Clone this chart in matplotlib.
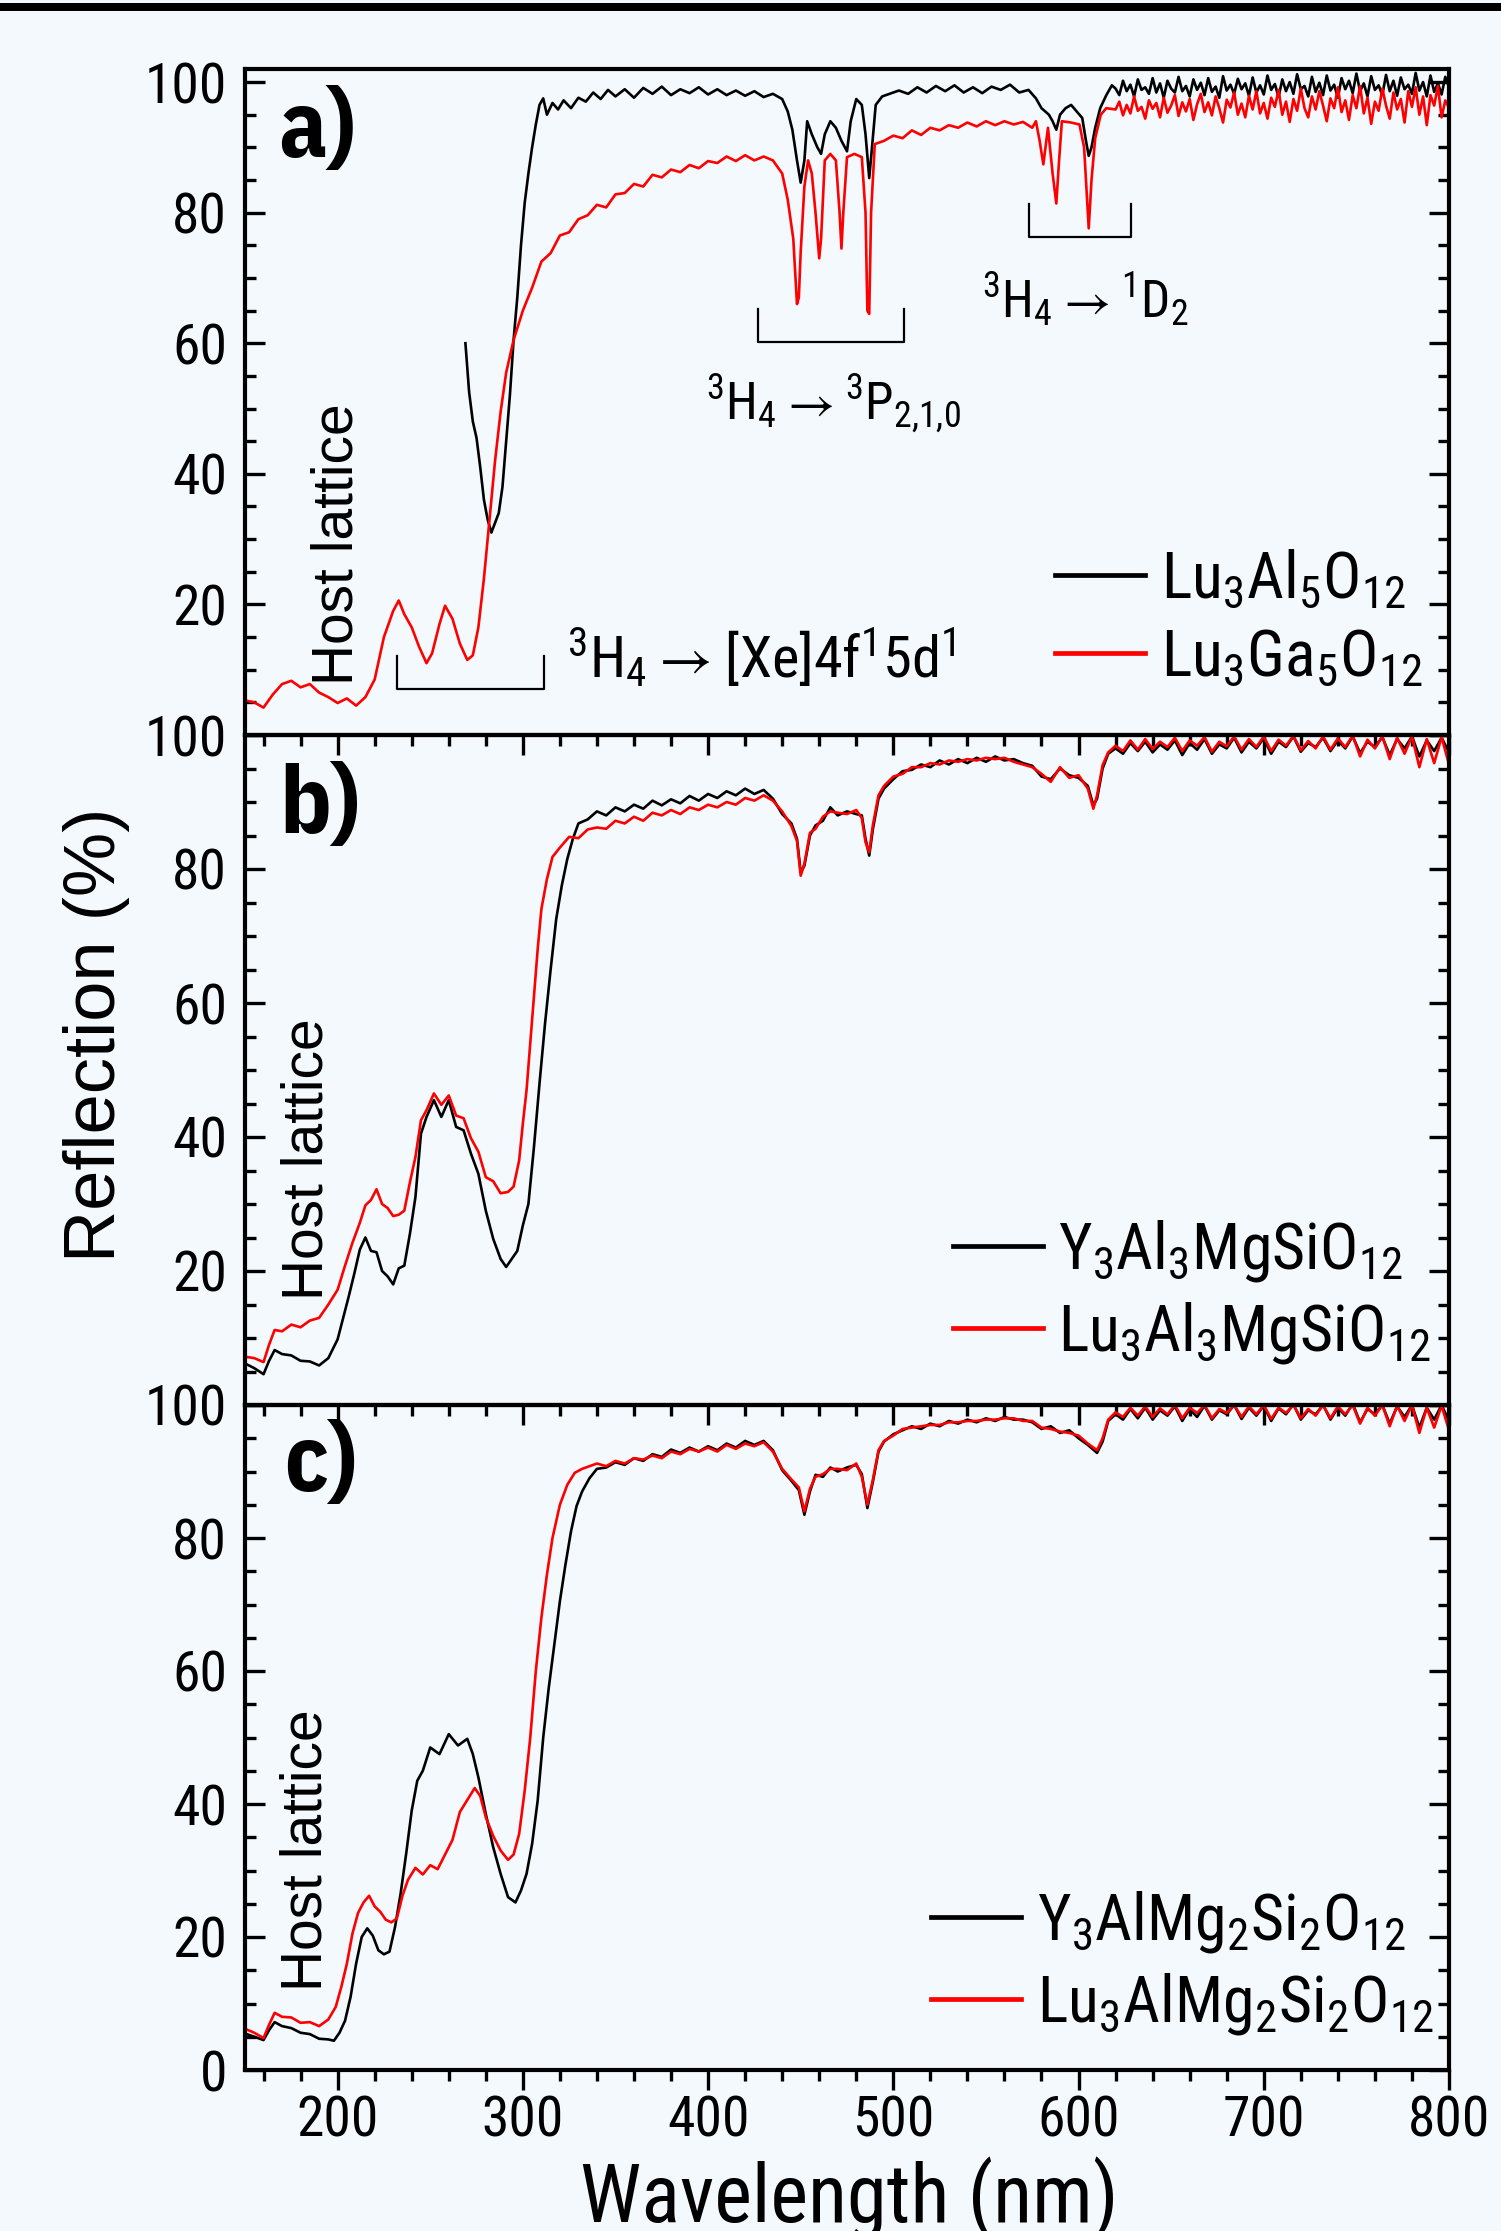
import matplotlib
matplotlib.use("Agg")
import matplotlib.pyplot as plt
from matplotlib import font_manager
from matplotlib.patches import Rectangle
from matplotlib.ticker import MultipleLocator

# ---------------------------------------------------------------------------
# data (wavelength in nm, reflection in %)
# ---------------------------------------------------------------------------

TAIL_WL_FINE = list(range(620, 801, 2))
TAIL_WL = list(range(620, 801, 4))

# panel a) Lu3Al5O12 (black)
WL_A_K = [269, 271, 273, 275, 277, 279, 281, 283, 285, 287, 289, 291, 293, 295,
          297, 299, 301, 303, 305, 307, 309, 311, 313, 316, 319, 322, 326, 330,
          334, 338, 342, 346, 350, 355, 360, 365, 370, 375, 380, 385, 390, 395,
          400, 405, 410, 415, 420, 425, 430, 435, 440, 443, 445.5, 448, 450, 452,
          453.5, 456, 459, 461, 463, 466, 469, 472, 475, 477, 480, 483, 485, 487,
          488.5, 490.5, 494, 498, 503, 508, 513, 518, 523, 528, 533, 538, 543,
          548, 553, 558, 563, 568, 573, 577, 580, 584, 586, 588, 590, 593, 596,
          599, 602, 604, 605.5, 607, 609, 611.7, 615, 618] + TAIL_WL_FINE
R_A_K = [60.0, 52.5, 48.0, 45.5, 41.0, 36.0, 33.0, 31.0, 32.5, 34.0, 38.0, 45.0,
         52.0, 60.5, 67.0, 75.0, 81.5, 86.0, 90.0, 93.5, 96.5, 97.5, 95.0, 96.8,
         95.8, 97.2, 96.0, 97.6, 97.0, 98.4, 97.4, 98.8, 97.8, 98.9, 97.6, 99.1,
         98.2, 99.3, 98.0, 98.9, 98.3, 99.2, 98.1, 98.9, 98.0, 98.7, 97.9, 98.6,
         97.7, 98.2, 97.4, 95.5, 92.7, 88.0, 84.6, 88.0, 94.0, 92.0, 90.0, 89.0,
         92.0, 94.0, 93.0, 91.0, 89.4, 94.0, 97.4, 96.5, 92.0, 85.3, 90.0, 96.5,
         97.8, 98.2, 98.7, 98.2, 99.2, 98.4, 99.4, 98.6, 99.5, 98.4, 99.2, 98.3,
         99.3, 98.8, 99.6, 98.4, 98.8, 97.5, 96.0, 95.0, 94.0, 92.7, 95.0, 96.0,
         96.5, 95.5, 94.5, 91.0, 88.7, 90.0, 93.0, 96.0, 98.0, 99.5,
         99.0, 98.0, 100.2, 98.6, 99.6, 97.8, 100.4, 98.8, 99.2, 98.2,
         100.6, 98.4, 99.8, 97.6, 100.2, 99.0, 98.4, 100.8, 98.6, 99.4,
         97.8, 100.4, 98.8, 99.9, 98.0, 100.6, 98.5, 99.3, 97.6, 100.9,
         98.7, 99.6, 98.2, 100.5, 98.9, 99.8, 97.9, 100.7, 98.4, 99.5,
         98.1, 101.0, 98.8, 99.7, 97.7, 100.4, 98.6, 100.0, 98.2, 101.2,
         98.9, 99.4, 97.8, 100.8, 98.5, 99.9, 98.0, 101.0, 98.7, 99.6,
         97.6, 100.6, 98.9, 100.2, 98.3, 101.3, 98.6, 99.8, 97.8, 100.9,
         98.8, 99.5, 98.0, 101.1, 98.6, 100.2, 97.9, 100.7, 98.9, 99.6,
         98.2, 101.4, 98.7, 100.0, 97.8, 101.0, 98.5, 99.8, 98.1, 100.8,
         99.2]

# panel a) Lu3Ga5O12 (red)
WL_A_R = [150, 155, 160, 165, 170, 175, 180, 185, 190, 195, 200, 205, 210, 215,
          220, 225, 230, 233, 236, 240, 244, 248, 251, 255, 258, 262, 266, 270,
          273, 276, 279, 282, 285, 288, 291, 295, 300, 305, 310, 315, 320, 325,
          330, 335, 340, 345, 350, 355, 360, 365, 370, 375, 380, 385, 390, 395,
          400, 405, 410, 415, 420, 425, 430, 435, 440, 443, 446, 448, 449, 450,
          452, 454, 456, 458, 460, 461, 463, 466, 469, 471, 472, 473, 475, 479,
          483, 485, 486, 487, 488, 490, 495, 500, 505, 510, 515, 520, 525, 530,
          535, 540, 545, 550, 555, 560, 565, 570, 575, 577, 579, 581, 583.5, 586,
          588, 589.5, 591, 596, 600.5, 603, 605.5, 607, 609, 612, 615] + TAIL_WL_FINE
R_A_R = [5.3, 5.0, 4.2, 6.2, 7.8, 8.3, 7.3, 7.8, 6.5, 5.8, 4.9, 5.6, 4.5, 5.8,
         8.5, 15.0, 19.0, 20.6, 18.5, 16.5, 13.5, 11.0, 12.5, 17.0, 19.8, 17.8,
         14.0, 11.5, 12.2, 16.5, 24.0, 33.0, 42.0, 49.5, 55.5, 60.5, 65.0, 68.5,
         72.5, 73.8, 76.5, 77.0, 79.0, 79.6, 81.2, 80.8, 82.8, 83.0, 84.4, 84.0,
         85.8, 85.4, 86.6, 86.2, 87.3, 86.8, 87.9, 87.6, 88.6, 87.9, 88.8, 88.0,
         88.6, 88.0, 86.0, 82.0, 76.0, 66.0, 67.0, 74.0, 84.0, 88.0, 86.0, 80.0,
         73.0, 76.0, 88.0, 89.0, 88.0, 80.0, 74.5, 80.0, 88.5, 89.0, 88.5, 80.0,
         65.0, 64.5, 80.0, 90.5, 91.0, 91.8, 91.4, 92.6, 91.9, 93.0, 92.6, 93.4,
         93.0, 93.8, 93.2, 94.0, 93.4, 94.0, 93.5, 93.9, 93.0, 94.0, 91.0, 87.4,
         93.0, 86.0, 81.4, 88.0, 94.0, 93.8, 93.5, 90.0, 77.6, 85.0, 91.4, 95.0,
         96.0,
         95.8, 97.0, 94.9, 96.5, 95.2, 97.8, 95.6, 96.2, 94.4, 97.2,
         95.9, 96.8, 94.6, 97.6, 95.3, 96.4, 98.0, 94.8, 96.9, 95.5,
         97.4, 94.2, 96.6, 98.2, 95.4, 96.9, 94.9, 97.8, 96.0, 93.8,
         97.3, 96.1, 98.4, 95.0, 96.7, 94.6, 97.9, 95.8, 98.6, 95.2,
         96.8, 94.4, 97.6, 96.2, 98.8, 95.0, 97.0, 93.9, 97.4, 95.6,
         99.0, 96.0, 94.6, 97.8, 95.8, 98.6, 96.4, 94.0, 97.5, 96.0,
         99.2, 95.4, 97.2, 94.2, 98.0, 96.0, 99.4, 95.2, 97.6, 93.6,
         97.0, 95.6, 99.0, 96.4, 94.4, 98.4, 95.8, 97.4, 93.8, 98.6,
         96.2, 99.2, 95.0, 97.8, 93.4, 98.0, 96.4, 99.4, 94.6, 97.2,
         96.0]

# panel b) Y3Al3MgSiO12 (black)
WL_B_K = [150, 155, 160, 163, 166, 170, 175, 180, 185, 190, 195, 200, 203, 206,
          209, 212, 215, 218, 221, 224, 227, 230, 233, 236, 239, 242, 245, 248,
          252, 256, 260, 264, 268, 272, 276, 280, 284, 288, 291, 294, 297, 300,
          303, 306, 309, 312, 315, 318, 321, 324, 327, 330, 335, 340, 345, 350,
          355, 360, 365, 370, 375, 380, 385, 390, 395, 400, 405, 410, 415, 420,
          425, 430, 435, 440, 445, 448, 450, 452, 455, 458, 462, 466, 470, 475,
          480, 483, 485, 487, 489, 492, 495, 500, 505, 510, 515, 520, 525, 530,
          535, 540, 545, 550, 555, 560, 565, 570, 575, 580, 585, 590, 595, 600,
          605, 608, 610, 613, 616] + TAIL_WL
R_B_K = [6.2, 5.5, 4.6, 6.6, 8.2, 7.6, 7.4, 6.6, 6.5, 5.9, 7.0, 9.8, 13.0, 16.2,
         19.6, 23.2, 25.0, 23.0, 22.8, 20.0, 19.2, 18.0, 20.4, 20.8, 25.5, 31.0,
         40.5, 43.0, 45.5, 43.0, 45.5, 41.5, 41.0, 37.5, 34.5, 29.0, 24.8, 21.8,
         20.6, 21.8, 23.0, 26.8, 30.0, 38.5, 48.0, 57.0, 65.0, 72.5, 77.5, 81.5,
         84.5, 86.8, 87.4, 88.6, 88.0, 89.2, 88.6, 89.6, 89.0, 90.2, 89.5, 90.4,
         89.8, 90.9, 90.2, 91.2, 90.6, 91.6, 91.0, 92.0, 91.2, 91.8, 90.5, 88.2,
         86.8, 84.5, 79.5, 80.5, 85.0, 86.5, 87.2, 89.2, 88.0, 88.6, 88.2, 88.0,
         84.5, 82.0, 86.0, 90.5, 92.0, 93.4, 94.6, 94.8, 95.6, 95.2, 96.2, 95.6,
         96.4, 95.8, 96.6, 96.0, 96.8, 96.2, 96.4, 95.8, 95.4, 93.8, 93.4, 95.0,
         94.0, 93.6, 92.4, 89.5, 90.5, 95.0, 97.2,
         98.0, 97.2, 98.8, 97.6, 99.0, 97.4, 98.6, 97.8, 99.2, 97.0, 98.8, 97.8,
         99.4, 97.2, 98.6, 98.0, 99.6, 97.4, 99.0, 98.0, 99.5, 97.2, 99.0, 98.2,
         99.8, 97.5, 98.8, 98.2, 99.6, 97.6, 99.2, 98.0, 99.8, 97.3, 99.0, 98.2,
         99.7, 97.0, 99.4, 98.0, 99.8, 96.8, 99.2, 97.6, 99.6, 97.4]

# panel b) Lu3Al3MgSiO12 (red)
WL_B_R = [150, 155, 160, 163, 166, 170, 175, 180, 185, 190, 195, 200, 204, 208,
          212, 215, 218, 221, 224, 227, 230, 233, 236, 239, 242, 245, 248, 252,
          256, 260, 264, 268, 272, 276, 280, 284, 288, 292, 295, 298, 300, 302,
          304, 306, 308, 310, 313, 316, 320, 325, 330, 335, 340, 345, 350, 355,
          360, 365, 370, 375, 380, 385, 390, 395, 400, 405, 410, 415, 420, 425,
          430, 435, 440, 445, 448, 450, 452, 455, 458, 462, 466, 470, 475, 480,
          483, 485, 487, 489, 492, 495, 500, 505, 510, 515, 520, 525, 530, 535,
          540, 545, 550, 555, 560, 565, 570, 575, 580, 585, 590, 595, 600, 605,
          608, 610, 613, 616] + TAIL_WL
R_B_R = [7.2, 7.0, 6.4, 9.0, 11.2, 11.0, 12.0, 11.6, 12.6, 13.0, 15.0, 17.2,
         20.8, 24.2, 27.2, 29.8, 30.6, 32.2, 30.0, 29.4, 28.2, 28.4, 29.0, 33.2,
         37.0, 42.5, 44.0, 46.5, 44.8, 46.2, 43.2, 42.8, 39.8, 37.8, 34.0, 33.4,
         31.6, 31.8, 32.6, 36.5, 42.0, 47.0, 54.0, 61.0, 68.0, 74.0, 78.5, 81.8,
         83.2, 84.8, 84.6, 85.9, 86.2, 86.0, 87.2, 86.8, 87.8, 87.2, 88.4, 88.0,
         88.8, 88.2, 89.2, 88.8, 89.6, 89.2, 90.0, 89.6, 90.6, 90.2, 91.0, 90.2,
         88.6, 86.4, 84.2, 79.0, 80.8, 85.4, 86.0, 87.8, 88.6, 88.4, 88.2, 88.8,
         87.6, 84.0, 82.5, 86.6, 91.0, 92.4, 93.8, 94.2, 95.2, 95.2, 95.8, 95.6,
         96.2, 96.0, 96.4, 96.2, 96.6, 96.4, 96.6, 96.0, 95.6, 95.2, 94.2, 93.0,
         95.2, 93.6, 94.0, 92.0, 89.0, 91.0, 95.5, 97.4,
         98.4, 97.6, 99.2, 97.8, 99.4, 97.9, 99.0, 98.2, 99.6, 97.6, 99.2, 98.4,
         99.7, 97.5, 99.0, 98.3, 99.8, 97.8, 99.4, 98.2, 99.8, 97.6, 99.3, 98.4,
         99.9, 97.7, 99.1, 98.0, 99.8, 97.8, 99.5, 98.2, 99.9, 96.8, 99.3, 98.0,
         99.8, 96.4, 99.6, 97.2, 99.8, 95.2, 99.4, 95.8, 99.7, 95.6]

# panel c) Y3AlMg2Si2O12 (black)
WL_C_K = [150, 155, 160, 163, 166, 170, 175, 180, 185, 190, 195, 198, 201, 204,
          207, 210, 213, 216, 219, 222, 225, 228, 231, 234, 237, 240, 243, 246,
          250, 255, 260, 265, 270, 273, 276, 280, 284, 288, 292, 296, 299, 302,
          305, 308, 311, 314, 317, 320, 323, 326, 329, 332, 336, 340, 345, 350,
          355, 360, 365, 370, 375, 380, 385, 390, 395, 400, 405, 410, 415, 420,
          425, 430, 435, 440, 445, 449, 452, 455, 458, 462, 466, 470, 475, 480,
          483, 486, 489, 492, 495, 500, 505, 510, 515, 520, 525, 530, 535, 540,
          545, 550, 555, 560, 565, 570, 575, 580, 585, 590, 595, 600, 605, 610,
          613, 616] + TAIL_WL
R_C_K = [5.5, 5.0, 4.5, 6.0, 7.2, 6.6, 6.3, 5.6, 5.4, 4.7, 4.6, 4.4, 5.6, 7.4,
         11.0, 16.0, 20.0, 21.3, 20.2, 18.0, 17.4, 17.8, 21.5, 26.5, 32.5, 39.0,
         43.5, 45.0, 48.5, 47.5, 50.5, 48.8, 49.8, 47.5, 44.0, 38.5, 33.5, 29.5,
         26.0, 25.2, 27.0, 29.5, 34.0, 40.5, 50.0, 57.5, 64.0, 70.5, 76.0, 81.0,
         84.8, 87.0, 89.0, 90.4, 90.6, 91.4, 91.0, 92.0, 91.6, 92.6, 92.2, 93.3,
         92.8, 93.6, 93.0, 93.8, 93.2, 94.2, 93.6, 94.6, 94.0, 94.6, 93.2, 90.2,
         88.6, 87.2, 83.5, 87.0, 89.5, 89.2, 90.6, 90.0, 90.6, 91.0, 89.6, 84.5,
         88.5, 93.0, 94.5, 95.6, 96.2, 96.8, 96.4, 97.2, 96.8, 97.6, 97.2, 97.8,
         97.4, 98.0, 97.6, 98.2, 97.8, 97.8, 97.4, 96.4, 96.8, 95.8, 96.2, 95.0,
         94.0, 92.8, 94.5, 97.6,
         98.6, 97.8, 99.4, 98.0, 99.6, 97.8, 99.2, 98.4, 99.8, 97.6, 99.4, 98.2,
         99.9, 97.8, 99.2, 98.6, 100.0, 97.9, 99.6, 98.4, 99.9, 97.6, 99.5, 98.6,
         100.1, 97.8, 99.2, 98.6, 100.0, 97.8, 99.6, 98.4, 100.2, 97.4, 99.4,
         98.6, 100.0, 97.2, 99.8, 98.2, 100.0, 96.6, 99.6, 97.8, 100.0, 97.6]

# panel c) Lu3AlMg2Si2O12 (red)
WL_C_R = [150, 155, 160, 163, 166, 170, 175, 180, 185, 190, 195, 199, 202, 205,
          208, 211, 214, 217, 220, 223, 226, 229, 232, 235, 238, 242, 246, 250,
          254, 258, 262, 266, 270, 274, 277, 280, 284, 288, 292, 295, 298, 301,
          304, 307, 310, 313, 316, 320, 324, 328, 332, 336, 340, 345, 350, 355,
          360, 365, 370, 375, 380, 385, 390, 395, 400, 405, 410, 415, 420, 425,
          430, 435, 440, 445, 449, 452, 455, 458, 462, 466, 470, 475, 480, 483,
          486, 489, 492, 495, 500, 505, 510, 515, 520, 525, 530, 535, 540, 545,
          550, 555, 560, 565, 570, 575, 580, 585, 590, 595, 600, 605, 610, 613,
          616] + TAIL_WL
R_C_R = [6.2, 5.6, 4.8, 6.8, 8.6, 8.0, 7.9, 7.1, 7.2, 6.6, 7.6, 9.5, 12.5, 16.0,
         20.5, 23.6, 25.2, 26.2, 24.6, 23.8, 22.6, 22.2, 22.8, 26.2, 28.6, 30.4,
         29.4, 30.8, 30.2, 32.4, 34.6, 38.8, 40.6, 42.4, 41.2, 38.0, 35.2, 33.0,
         31.6, 32.4, 35.5, 42.0, 50.0, 60.0, 68.0, 74.5, 80.0, 85.0, 88.0, 89.8,
         90.4, 90.8, 91.2, 90.8, 91.6, 91.2, 92.0, 91.8, 92.4, 92.0, 93.0, 92.6,
         93.4, 93.0, 93.6, 93.0, 94.0, 93.4, 94.2, 93.8, 94.4, 93.0, 90.4, 88.8,
         87.6, 84.0, 87.4, 89.2, 89.6, 90.4, 90.4, 90.2, 91.2, 89.2, 85.0, 88.8,
         93.2, 94.6, 95.4, 96.4, 96.6, 96.8, 97.0, 97.0, 97.4, 97.4, 97.6, 97.6,
         97.8, 97.8, 98.0, 98.0, 97.6, 97.6, 96.6, 96.4, 96.0, 95.8, 95.4, 94.2,
         93.2, 95.0, 97.8,
         98.9, 98.2, 99.6, 98.4, 99.8, 98.2, 99.5, 98.6, 100.0, 98.0, 99.6, 98.8,
         100.0, 98.0, 99.4, 98.8, 100.0, 98.2, 99.8, 98.6, 100.0, 97.9, 99.6,
         98.8, 100.0, 98.0, 99.4, 98.4, 100.0, 98.0, 99.8, 98.6, 100.0, 97.2,
         99.6, 98.4, 100.0, 96.8, 99.9, 97.6, 100.0, 95.8, 99.6, 96.6, 99.9, 96.2]

LABELS_A = [r"Lu$_3$Al$_5$O$_{12}$", r"Lu$_3$Ga$_5$O$_{12}$"]
LABELS_B = [r"Y$_3$Al$_3$MgSiO$_{12}$", r"Lu$_3$Al$_3$MgSiO$_{12}$"]
LABELS_C = [r"Y$_3$AlMg$_2$Si$_2$O$_{12}$", r"Lu$_3$AlMg$_2$Si$_2$O$_{12}$"]

# brackets in panel a: (left nm, right nm, bottom %, top %)
BRACKET_XE = (232, 311.5, 7.1, 12.1)
BRACKET_3P = (427, 506, 60.2, 65.2)
BRACKET_1D = (573.5, 628.4, 76.3, 81.3)

BG = "#f3f9fd"
BLACK = "#000000"
RED = "#ff0000"

names = {f.name for f in font_manager.fontManager.ttflist}
NARROW = next((n for n in ["Liberation Sans Narrow", "Arial Narrow", "Roboto Condensed",
                           "Archivo Narrow", "IBM Plex Sans Condensed"] if n in names),
              "Liberation Sans")
BOLDNARROW = next((n for n in ["Liberation Sans Narrow", "Arial Narrow",
                               "IBM Plex Sans Condensed", "Barlow Condensed"] if n in names),
                  "Liberation Sans")
WIDE = "Liberation Sans"
plt.rcParams["font.family"] = [NARROW, "DejaVu Sans"]
plt.rcParams["mathtext.default"] = "regular"

TICK_FS = 40
LEG_FS = 46
LINE_W = 1.9

W, H = 1501, 2231
LEFT, RIGHT = 245, 1449
# (top px, bottom px) of the three stacked panels
PANEL_PX = [(69, 735), (735, 1405), (1405, 2070)]
YLIMS = [(2, 102), (0, 100), (0, 100)]


def make_axes(fig, top, bottom):
    ax = fig.add_axes([LEFT / W, 1 - bottom / H, (RIGHT - LEFT) / W, (bottom - top) / H])
    ax.set_facecolor("none")
    for sp in ax.spines.values():
        sp.set_linewidth(3.0)
    return ax


def style_axes(ax, ylim, show_x, ylabels):
    ax.set_xlim(150, 800)
    ax.set_ylim(*ylim)
    ax.xaxis.set_major_locator(MultipleLocator(100))
    ax.xaxis.set_minor_locator(MultipleLocator(20))
    ax.set_yticks([0, 20, 40, 60, 80, 100])
    ax.set_yticklabels(ylabels)
    ax.yaxis.set_minor_locator(MultipleLocator(5))
    ax.tick_params(axis="x", which="both", direction="out", bottom=True, top=False,
                   width=2.4, labelbottom=show_x, labelsize=TICK_FS, pad=3)
    ax.tick_params(axis="x", which="major", length=14.5)
    ax.tick_params(axis="x", which="minor", length=8)
    ax.tick_params(axis="y", which="both", direction="in", left=True, right=True,
                   width=2.4, labelsize=TICK_FS, pad=13)
    ax.tick_params(axis="y", which="major", length=14.5)
    ax.tick_params(axis="y", which="minor", length=8)


def plot_panel(ax, wl_k, r_k, wl_r, r_r, labels, anchor):
    ax.plot(wl_k, r_k, color=BLACK, lw=LINE_W, label=labels[0])
    ax.plot(wl_r, r_r, color=RED, lw=LINE_W, label=labels[1])
    leg = ax.legend(loc="lower right", bbox_to_anchor=anchor, frameon=False,
                    fontsize=LEG_FS, handlelength=1.4, handletextpad=0.25,
                    labelspacing=0.25, borderpad=0, borderaxespad=0)
    for line in leg.get_lines():
        line.set_linewidth(3.4)


def bracket(ax, spec):
    x0, x1, y0, y1 = spec
    ax.plot([x0, x0, x1, x1], [y1, y0, y0, y1], color=BLACK, lw=1.6)


fig = plt.figure(figsize=(W / 100, H / 100), dpi=100, facecolor=BG)

ax_a = make_axes(fig, *PANEL_PX[0])
ax_b = make_axes(fig, *PANEL_PX[1])
ax_c = make_axes(fig, *PANEL_PX[2])

plot_panel(ax_a, WL_A_K, R_A_K, WL_A_R, R_A_R, LABELS_A, (0.978, 0.07))
plot_panel(ax_b, WL_B_K, R_B_K, WL_B_R, R_B_R, LABELS_B, (0.985, 0.058))
plot_panel(ax_c, WL_C_K, R_C_K, WL_C_R, R_C_R, LABELS_C, (0.987, 0.05))

# the 0 of panels a) and b) sits under the 100 of the panel below
style_axes(ax_a, YLIMS[0], False, ["", "20", "40", "60", "80", "100"])
style_axes(ax_b, YLIMS[1], False, ["", "20", "40", "60", "80", "100"])
style_axes(ax_c, YLIMS[2], True, ["0", "20", "40", "60", "80", "100"])

# panel letters
for ax, xy, s in ((ax_a, (167.8, 88.5), "a)"), (ax_b, (168.6, 85.4), "b)"),
                  (ax_c, (171, 87.1), "c)")):
    ax.text(xy[0], xy[1], s, family=[BOLDNARROW, "DejaVu Sans"], fontsize=68,
            fontweight="bold", ha="left", va="baseline")

# host lattice labels
for ax, xy in ((ax_a, (208, 29.3)), (ax_b, (192, 36.7)), (ax_c, (191.5, 33.0))):
    ax.text(xy[0], xy[1], "Host lattice", family=[WIDE, "DejaVu Sans"], fontsize=41,
            rotation=90, rotation_mode="anchor", ha="center", va="baseline")

# transitions in panel a
bracket(ax_a, BRACKET_XE)
bracket(ax_a, BRACKET_3P)
bracket(ax_a, BRACKET_1D)
ax_a.text(324, 8.7, r"$^3$H$_{4}\rightarrow$[Xe]4f$^1$5d$^1$", fontsize=42,
          ha="left", va="baseline")
ax_a.text(399, 48.2, r"$^3$H$_{4}\rightarrow^3$P$_{2{,}1{,}0}$", fontsize=37,
          ha="left", va="baseline")
ax_a.text(547.7, 63.9, r"$^3$H$_{4}\rightarrow^1$D$_2$", fontsize=37,
          ha="left", va="baseline")

# axis titles
fig.text(115 / W, 1 - 1035 / H, "Reflection (%)", family=[WIDE, "DejaVu Sans"],
         fontsize=52, rotation=90, rotation_mode="anchor", ha="center", va="baseline")
fig.text(849 / W, 9 / H, "Wavelength (nm)", fontsize=58, ha="center", va="baseline")

# black rule across the top of the page
fig.add_artist(Rectangle((0, 1 - 11 / H), 1, 8 / H, transform=fig.transFigure,
                         facecolor=BLACK, edgecolor="none"))

fig.savefig("out.png", dpi=100, facecolor=BG)
